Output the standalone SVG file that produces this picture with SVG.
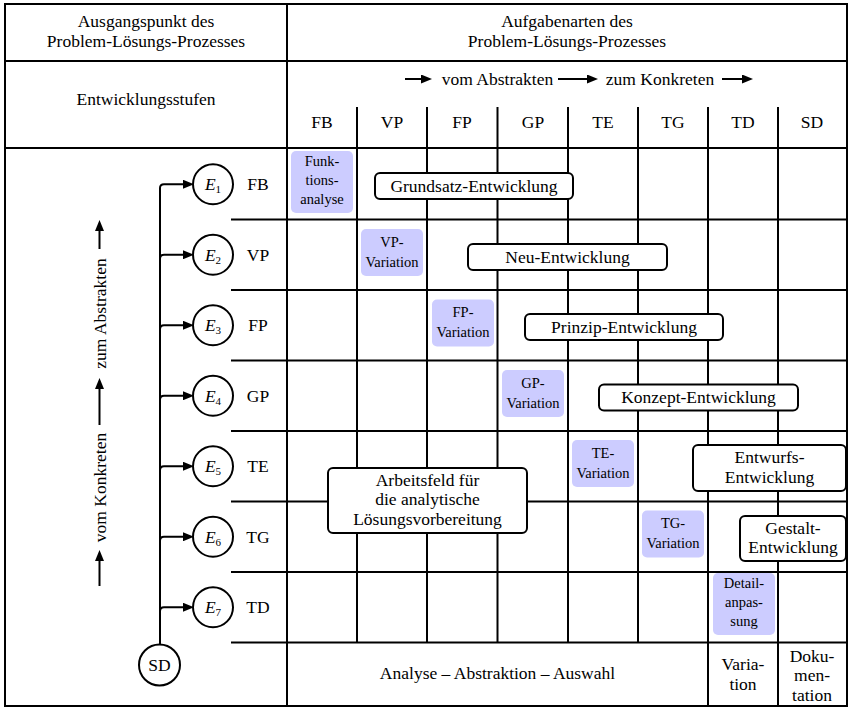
<svg xmlns="http://www.w3.org/2000/svg" width="849" height="707" viewBox="0 0 849 707" font-family="Liberation Serif, DejaVu Serif, serif" font-size="17.5">
<defs>
<style>
.sm{font-size:14.5px}
.c{text-anchor:middle}
.ln{stroke:#000;stroke-width:2;fill:none}
.blue{fill:#ccccff;stroke:none}
.wb{fill:#fff;stroke:#000;stroke-width:2}
.circ{fill:#fff;stroke:#000;stroke-width:2}
.arr{stroke:#000;stroke-width:2;fill:none;marker-end:url(#ah)}
</style>
<marker id="ah" markerWidth="11" markerHeight="9" refX="4" refY="4.5" orient="auto" markerUnits="userSpaceOnUse">
<path d="M0,0 L11,4.5 L0,9 z" fill="#000"/>
</marker>
</defs>
<rect x="0" y="0" width="849" height="707" fill="#fff"/>
<g id="grid">
<rect x="5" y="4" width="842" height="702" class="ln"/>
<path class="ln" d="M5,61H847M5,148H847M287,4V706"/>
<path class="ln" d="M357,107V148M427,107V148M497.5,107V148M568,107V148M638,107V148M708,107V148M778,107V148"/>
<path class="ln" d="M357,148V642.5M427,148V642.5M497.5,148V642.5M568,148V642.5M638,148V642.5M708,148V706M778,148V706"/>
<path class="ln" d="M231,219.5H847M231,290H847M231,360.5H847M231,431H847M231,501.5H847M231,572H847M231,642.5H847"/>
</g>
<g id="header">
<text class="c" x="146" y="27">Ausgangspunkt des</text>
<text class="c" x="146" y="47">Problem-Lösungs-Prozesses</text>
<text class="c" x="567" y="27">Aufgabenarten des</text>
<text class="c" x="567" y="47">Problem-Lösungs-Prozesses</text>
<text class="c" x="146" y="105">Entwicklungsstufen</text>
<text class="c" x="497.5" y="85">vom Abstrakten</text>
<text class="c" x="660" y="85">zum Konkreten</text>
<text class="c" x="322" y="128">FB</text>
<text class="c" x="392" y="128">VP</text>
<text class="c" x="462" y="128">FP</text>
<text class="c" x="533" y="128">GP</text>
<text class="c" x="603" y="128">TE</text>
<text class="c" x="673" y="128">TG</text>
<text class="c" x="743" y="128">TD</text>
<text class="c" x="812" y="128">SD</text>
</g>
<g id="axis-arrows">
<line class="arr" x1="405" y1="79" x2="425" y2="79"/>
<line class="arr" x1="558" y1="79" x2="591" y2="79"/>
<line class="arr" x1="722" y1="79" x2="746" y2="79"/>
<line class="arr" x1="99.5" y1="586" x2="99.5" y2="557"/>
<line class="arr" x1="99.5" y1="425" x2="99.5" y2="385"/>
<line class="arr" x1="99.5" y1="249" x2="99.5" y2="227"/>
<text class="c" transform="translate(106,487.5) rotate(-90)">vom Konkreten</text>
<text class="c" transform="translate(106,313.5) rotate(-90)">zum Abstrakten</text>
</g>
<g id="connectors">
<path class="arr" d="M160,645V188Q160,184.25 164,184.25H187"/>
<path class="arr" d="M160,645V258.75Q160,254.75 164,254.75H187"/>
<path class="arr" d="M160,645V329.25Q160,325.25 164,325.25H187"/>
<path class="arr" d="M160,645V399.75Q160,395.75 164,395.75H187"/>
<path class="arr" d="M160,645V470.25Q160,466.25 164,466.25H187"/>
<path class="arr" d="M160,645V540.75Q160,536.75 164,536.75H187"/>
<path class="arr" d="M160,645V611.25Q160,607.25 164,607.25H187"/>
</g>
<g id="SD"><circle class="circ" cx="159.5" cy="665" r="20.5"/><text class="c" x="159.5" y="671">SD</text></g>
<g id="E1"><circle class="circ" cx="213" cy="184.25" r="20"/><text class="c" x="213" y="190"><tspan font-style="italic">E</tspan><tspan font-size="11" dy="3">1</tspan></text><text class="c" x="258" y="190">FB</text></g>
<g id="E2"><circle class="circ" cx="213" cy="254.75" r="20"/><text class="c" x="213" y="260.5"><tspan font-style="italic">E</tspan><tspan font-size="11" dy="3">2</tspan></text><text class="c" x="258" y="260.5">VP</text></g>
<g id="E3"><circle class="circ" cx="213" cy="325.25" r="20"/><text class="c" x="213" y="331"><tspan font-style="italic">E</tspan><tspan font-size="11" dy="3">3</tspan></text><text class="c" x="258" y="331">FP</text></g>
<g id="E4"><circle class="circ" cx="213" cy="395.75" r="20"/><text class="c" x="213" y="401.5"><tspan font-style="italic">E</tspan><tspan font-size="11" dy="3">4</tspan></text><text class="c" x="258" y="401.5">GP</text></g>
<g id="E5"><circle class="circ" cx="213" cy="466.25" r="20"/><text class="c" x="213" y="472"><tspan font-style="italic">E</tspan><tspan font-size="11" dy="3">5</tspan></text><text class="c" x="258" y="472">TE</text></g>
<g id="E6"><circle class="circ" cx="213" cy="536.75" r="20"/><text class="c" x="213" y="542.5"><tspan font-style="italic">E</tspan><tspan font-size="11" dy="3">6</tspan></text><text class="c" x="258" y="542.5">TG</text></g>
<g id="E7"><circle class="circ" cx="213" cy="607.25" r="20"/><text class="c" x="213" y="613"><tspan font-style="italic">E</tspan><tspan font-size="11" dy="3">7</tspan></text><text class="c" x="258" y="613">TD</text></g>
<g id="funktionsanalyse"><rect class="blue" x="291" y="151" width="62" height="62" rx="5"/><text class="c sm" x="322" y="166">Funk-</text><text class="c sm" x="322" y="185">tions-</text><text class="c sm" x="322" y="204">analyse</text></g>
<g id="vp-variation"><rect class="blue" x="361" y="229" width="62" height="47" rx="5"/><text class="c sm" x="392" y="246.5">VP-</text><text class="c sm" x="392" y="266.5">Variation</text></g>
<g id="fp-variation"><rect class="blue" x="432" y="299.5" width="62" height="47" rx="5"/><text class="c sm" x="463" y="317">FP-</text><text class="c sm" x="463" y="337">Variation</text></g>
<g id="gp-variation"><rect class="blue" x="502" y="370" width="62" height="47" rx="5"/><text class="c sm" x="533" y="387.5">GP-</text><text class="c sm" x="533" y="407.5">Variation</text></g>
<g id="te-variation"><rect class="blue" x="572" y="440" width="62" height="47" rx="5"/><text class="c sm" x="603" y="457.5">TE-</text><text class="c sm" x="603" y="477.5">Variation</text></g>
<g id="tg-variation"><rect class="blue" x="642" y="510.5" width="62" height="47" rx="5"/><text class="c sm" x="673" y="528">TG-</text><text class="c sm" x="673" y="548">Variation</text></g>
<g id="detailanpassung"><rect class="blue" x="713" y="573" width="62" height="62" rx="5"/><text class="c sm" x="744" y="588">Detail-</text><text class="c sm" x="744" y="607">anpas-</text><text class="c sm" x="744" y="626">sung</text></g>
<g id="grundsatz"><rect class="wb" x="375" y="173" width="198" height="26" rx="5"/><text class="c" x="474" y="191.5">Grundsatz-Entwicklung</text></g>
<g id="neu"><rect class="wb" x="468" y="244" width="199" height="26" rx="5"/><text class="c" x="567.5" y="262.5">Neu-Entwicklung</text></g>
<g id="prinzip"><rect class="wb" x="525" y="314" width="198" height="26" rx="5"/><text class="c" x="624" y="332.5">Prinzip-Entwicklung</text></g>
<g id="konzept"><rect class="wb" x="599" y="384.5" width="199" height="26" rx="5"/><text class="c" x="698.5" y="403">Konzept-Entwicklung</text></g>
<g id="entwurf"><rect class="wb" x="693" y="445" width="153" height="46" rx="5"/><text class="c" x="769.5" y="463">Entwurfs-</text><text class="c" x="769.5" y="483">Entwicklung</text></g>
<g id="gestalt"><rect class="wb" x="740" y="516" width="106" height="45" rx="5"/><text class="c" x="793" y="533.5">Gestalt-</text><text class="c" x="793" y="553">Entwicklung</text></g>
<g id="arbeitsfeld"><rect class="wb" x="328" y="468" width="199" height="65" rx="5"/><text class="c" x="427.5" y="485.5">Arbeitsfeld für</text><text class="c" x="427.5" y="505">die analytische</text><text class="c" x="427.5" y="524.5">Lösungsvorbereitung</text></g>
<g id="footer">
<text class="c" x="497.5" y="679">Analyse – Abstraktion – Auswahl</text>
<text class="c" x="743" y="670">Varia-</text><text class="c" x="743" y="690">tion</text>
<text class="c" x="812" y="662">Doku-</text><text class="c" x="812" y="681">men-</text><text class="c" x="812" y="701">tation</text>
</g>
</svg>
